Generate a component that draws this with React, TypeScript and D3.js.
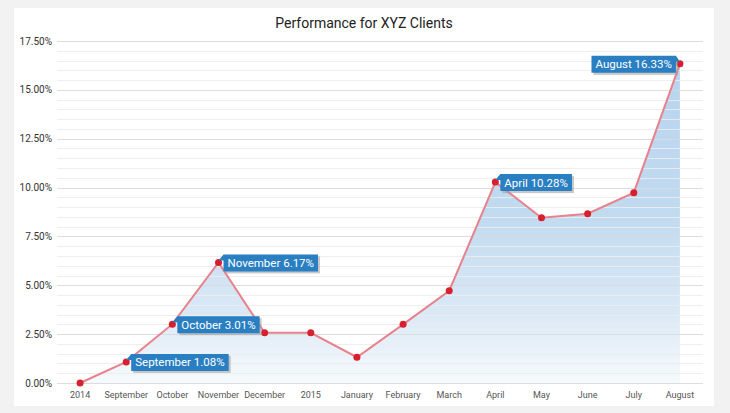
import React from "react";
import * as d3 from "d3";

const categories = ["2014", "September", "October", "November", "December", "2015", "January", "February", "March", "April", "May", "June", "July", "August"];
const values = [0, 1.08, 3.01, 6.17, 2.57, 2.57, 1.32, 3.0, 4.72, 10.28, 8.46, 8.66, 9.74, 16.33];
const yTicks = [0, 2.5, 5, 7.5, 10, 12.5, 15, 17.5];
const labeled = ["September", "October", "November", "April", "August"];
const leftSideLabels = ["August"];
const title = "Performance for XYZ Clients";

const W = 730, H = 413;
const FONT = "Roboto, 'DejaVu Sans', sans-serif";

function measure(text: string, size: number): number {
  if (typeof document === "undefined") return text.length * size * 0.55;
  const c = document.createElement("canvas");
  const ctx = c.getContext("2d");
  if (!ctx) return text.length * size * 0.55;
  ctx.font = `${size}px Roboto`;
  return ctx.measureText(text).width;
}

export default function App() {
  const x = d3.scalePoint<string>().domain(categories).range([57, 703]).padding(0.5);
  const y = d3.scaleLinear().domain([0, 17.5]).range([383, 41]);
  const minor = d3.range(0, 17.5001, 0.5);
  const pts = categories.map((c, i) => ({ c, v: values[i], px: x(c) as number, py: y(values[i]) }));
  const line = d3.line<any>().x(d => d.px).y(d => d.py);
  const area = d3.area<any>().x(d => d.px).y0(y(0)).y1(d => d.py);

  return (
    <svg width={W} height={H} style={{ position: "absolute", left: 0, top: 0 }} fontFamily={FONT}>
      <defs>
        <linearGradient id="ag" gradientUnits="userSpaceOnUse" x1="0" y1={y(17.5)} x2="0" y2={y(0)}>
          <stop offset="0" stopColor="#b7d4ee" />
          <stop offset="0.5" stopColor="#c0daf0" />
          <stop offset="0.8" stopColor="#dbe9f6" />
          <stop offset="1" stopColor="#f6fafd" />
        </linearGradient>
      </defs>
      <rect x={0} y={0} width={W} height={H} fill="#f2f2f2" />
      <rect x={14} y={8} width={700} height={398} fill="#ffffff" />
      <text x={364} y={28} textAnchor="middle" fontSize={14} fill="#222">{title}</text>
      <path d={area(pts) as string} fill="url(#ag)" />
      {minor.map((t, i) => {
        const major = Math.abs(t / 2.5 - Math.round(t / 2.5)) < 1e-6;
        return (
          <line key={i} x1={57} x2={703} y1={Math.round(y(t)) + 0.5} y2={Math.round(y(t)) + 0.5}
            stroke={major ? "#d9d9d9" : "#ececec"} strokeWidth={1} strokeOpacity={0.9} />
        );
      })}
      {yTicks.map((t, i) => (
        <text key={i} x={52} y={y(t) + 3.5} textAnchor="end" fontSize={10} fill="#333">{t.toFixed(2)}%</text>
      ))}
      {pts.map((p, i) => (
        <text key={i} x={p.px} y={398} textAnchor="middle" fontSize={9} fill="#555">{p.c}</text>
      ))}
      <path d={line(pts) as string} fill="none" stroke="#e8828c" strokeWidth={2} />
      {pts.map((p, i) => (
        <circle key={i} cx={p.px} cy={p.py} r={3.5} fill="#d81f2e" />
      ))}
      {pts.filter(p => labeled.includes(p.c)).map((p, i) => {
        const txt = `${p.c} ${p.v.toFixed(2)}%`;
        const fs = 11.5;
        const tw = measure(txt, fs);
        const bw = tw + 8, bh = 17;
        const left = leftSideLabels.includes(p.c);
        const bx = left ? p.px - 4 - bw : p.px + 5;
        const by = p.py - 8;
        const poly = left
          ? `${bx},${by} ${bx + bw},${by} ${p.px},${p.py - 2} ${bx + bw},${by + 6} ${bx + bw},${by + bh} ${bx},${by + bh}`
          : `${bx},${by} ${bx + bw},${by} ${bx + bw},${by + bh} ${bx},${by + bh} ${bx},${by + 6} ${p.px},${p.py - 2}`;
        return (
          <g key={i}>
            <rect x={bx + 2} y={by + 2} width={bw} height={bh} fill="#9a9a9a" opacity={0.55} />
            <polygon points={poly} fill="#2a7fc2" />
            <text x={bx + 4} y={by + 12.5} fontSize={fs} fill="#ffffff">{txt}</text>
          </g>
        );
      })}
    </svg>
  );
}
